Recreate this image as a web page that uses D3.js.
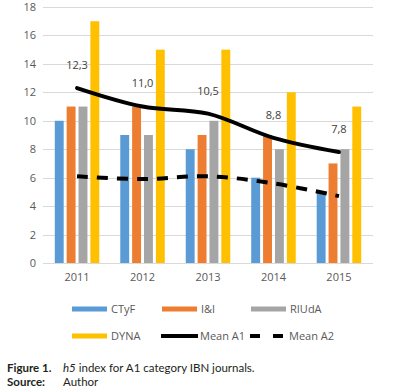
<!DOCTYPE html>
<html>
<head>
<meta charset="utf-8">
<script src="https://cdn.jsdelivr.net/npm/d3@7"></script>
<style>
  html, body { margin: 0; padding: 0; background: #fff; }
  svg { display: block; }
</style>
</head>
<body>
<div id="chart"></div>
<script>
// Daten
const years = ["2011", "2012", "2013", "2014", "2015"];
const series = ["CTyF", "I&I", "RIUdA", "DYNA"];
const ctyf = [10, 9, 8, 6, 5];
const ii = [11, 11, 9, 9, 7];
const riuda = [11, 9, 10, 8, 8];
const dyna = [17, 15, 15, 12, 11];
const meanA1 = [12.3, 11.0, 10.5, 8.8, 7.8];
const meanA2 = [6.1, 5.9, 6.1, 5.6, 4.7];
const yTicks = [0, 2, 4, 6, 8, 10, 12, 14, 16, 18];

const barValues = [ctyf, ii, riuda, dyna];
const colors = ["#5B9BD5", "#ED7D31", "#A5A5A5", "#FFC000"];

const width = 393, height = 392;
const font = "'Open Sans', sans-serif";

const svg = d3.select("#chart").append("svg")
    .attr("width", width)
    .attr("height", height);

// Skalen
const x0 = d3.scaleBand()
    .domain(years)
    .range([43, 373])
    .paddingInner(0.32)
    .paddingOuter(0.18);

const x1 = d3.scaleBand()
    .domain(series)
    .range([0, x0.bandwidth()])
    .paddingInner(0.25)
    .paddingOuter(0);

const y = d3.scaleLinear()
    .domain([0, 18])
    .range([263, 7]);

const color = d3.scaleOrdinal().domain(series).range(colors);

// Gitterlinien
svg.append("g")
    .selectAll("line")
    .data(yTicks)
    .join("line")
    .attr("x1", 43)
    .attr("x2", 373)
    .attr("y1", d => Math.round(y(d)) + 0.5)
    .attr("y2", d => Math.round(y(d)) + 0.5)
    .attr("stroke", "#d9d9d9")
    .attr("stroke-width", 1);

// Y-Achse
const yAxis = svg.append("g")
    .attr("transform", "translate(36,0)")
    .call(d3.axisLeft(y).tickValues(yTicks).tickSize(0).tickPadding(0));
yAxis.select(".domain").remove();
yAxis.selectAll("text")
    .attr("fill", "#595959")
    .style("font-family", font)
    .style("font-size", "11px");

// X-Achse
const xAxis = svg.append("g")
    .attr("transform", "translate(0,273)")
    .call(d3.axisBottom(x0).tickSize(0).tickPadding(0));
xAxis.select(".domain").remove();
xAxis.selectAll("text")
    .attr("fill", "#595959")
    .style("font-family", font)
    .style("font-size", "11px");

// Balken
const groups = svg.append("g")
    .selectAll("g")
    .data(years)
    .join("g")
    .attr("transform", d => `translate(${x0(d)},0)`);

groups.selectAll("rect")
    .data((d, i) => series.map((s, j) => ({ key: s, value: barValues[j][i] })))
    .join("rect")
    .attr("x", d => x1(d.key))
    .attr("y", d => y(d.value))
    .attr("width", x1.bandwidth())
    .attr("height", d => y(0) - y(d.value))
    .attr("fill", d => color(d.key));

// Linien
const cx = d => x0(d) + x0.bandwidth() / 2;
const line = d3.line()
    .x((d, i) => cx(years[i]))
    .y(d => y(d))
    .curve(d3.curveCatmullRom.alpha(0.5));

svg.append("path")
    .datum(meanA1)
    .attr("d", line)
    .attr("fill", "none")
    .attr("stroke", "#000")
    .attr("stroke-width", 4)
    .attr("stroke-linecap", "round");

svg.append("path")
    .datum(meanA2)
    .attr("d", line)
    .attr("fill", "none")
    .attr("stroke", "#000")
    .attr("stroke-width", 4)
    .attr("stroke-dasharray", "11,9");

// Wertbeschriftungen Mean A1
svg.append("g")
    .selectAll("text")
    .data(meanA1)
    .join("text")
    .attr("x", (d, i) => cx(years[i]))
    .attr("y", d => y(d) - 23)
    .attr("dy", "0.35em")
    .attr("text-anchor", "middle")
    .attr("fill", "#404040")
    .style("font-family", font)
    .style("font-size", "11px")
    .text(d => d.toFixed(1).replace(".", ","));

// Legende
const legendItems = [
    { name: "CTyF", type: "bar", x: 72, y: 309 },
    { name: "I&I", type: "bar", x: 162, y: 309 },
    { name: "RIUdA", type: "bar", x: 251, y: 309 },
    { name: "DYNA", type: "bar", x: 72, y: 336 },
    { name: "Mean A1", type: "line", x: 161, y: 336 },
    { name: "Mean A2", type: "dash", x: 250, y: 336 }
];

const legend = svg.append("g");
legendItems.forEach(item => {
    const g = legend.append("g").attr("transform", `translate(${item.x},${item.y})`);
    if (item.type === "bar") {
        g.append("rect")
            .attr("x", 0).attr("y", -2.5)
            .attr("width", 35).attr("height", 5)
            .attr("fill", color(item.name));
    } else {
        g.append("line")
            .attr("x1", 0).attr("x2", item.type === "line" ? 37 : 34)
            .attr("y1", 0).attr("y2", 0)
            .attr("stroke", "#000")
            .attr("stroke-width", 4)
            .attr("stroke-dasharray", item.type === "dash" ? "10,13" : null);
    }
    g.append("text")
        .attr("x", 39)
        .attr("y", 0)
        .attr("dy", "0.35em")
        .attr("fill", "#595959")
        .style("font-family", font)
        .style("font-size", "11px")
        .text(item.name);
});

// Bildunterschrift
const capFont = "Lato, 'Open Sans', sans-serif";
const cap = svg.append("g").style("font-family", capFont).style("font-size", "11.5px").attr("fill", "#231f20");
cap.append("text").attr("x", 7).attr("y", 372).style("font-weight", "bold").text("Figure 1.");
const t = cap.append("text").attr("x", 63).attr("y", 372);
t.append("tspan").style("font-style", "italic").text("h5");
t.append("tspan").text(" index for A1 category IBN journals.");
cap.append("text").attr("x", 7).attr("y", 386).style("font-weight", "bold").text("Source:");
cap.append("text").attr("x", 63).attr("y", 386).text("Author");
</script>
</body>
</html>
